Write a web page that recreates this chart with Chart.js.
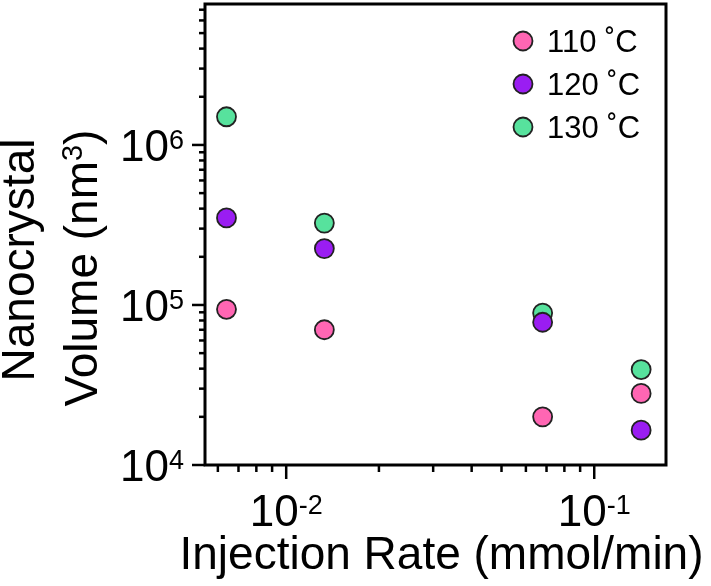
<!DOCTYPE html>
<html>
<head>
<meta charset="utf-8">
<script src="https://cdn.jsdelivr.net/npm/chart.js@4.4.1/dist/chart.umd.min.js"></script>
<style>
  html, body { margin: 0; padding: 0; background: #fff; }
  canvas { display: block; }
</style>
</head>
<body>
<canvas id="VolumeChart" width="711" height="586"></canvas>
<script>
// injection rate (mmol/min) and nanocrystal volume (nm^3) per temperature
var injectionRates = [0.0064, 0.0133, 0.068, 0.142];
var volume110 = [9.4e4, 7.0e4, 2.0e4, 2.8e4];
var volume120 = [3.5e5, 2.25e5, 7.8e4, 1.65e4];
var volume130 = [1.5e6, 3.25e5, 8.9e4, 3.95e4];
var seriesLabels = ["110 ˚C", "120 ˚C", "130 ˚C"];
var seriesColors = ["#FF66B3", "#9A1DF2", "#57E29D"];

var FONT = "'Liberation Sans', Arial, Helvetica, sans-serif";

function toPoints(values) {
    var pts = [];
    for (var i = 0; i < values.length; i++) {
        pts.push({ x: injectionRates[i], y: values[i] });
    }
    return pts;
}

function isNice(v) {
    var p = Math.pow(10, Math.floor(Math.log10(v) + 1e-9));
    var s = v / p;
    return Math.abs(s - Math.round(s)) < 1e-6;
}

function isPow10(v) {
    var e = Math.log10(v);
    return Math.abs(e - Math.round(e)) < 1e-6;
}

// "10" with a raised exponent; align 'center' or 'right'
function drawPower(ctx, exp, x, baseline, align) {
    ctx.font = "44px " + FONT;
    var w1 = ctx.measureText("10").width;
    ctx.font = "27px " + FONT;
    var w2 = ctx.measureText(exp).width;
    var total = w1 + w2;
    var left = align === "right" ? x - total : x - total / 2;
    ctx.textAlign = "left";
    ctx.textBaseline = "alphabetic";
    ctx.font = "44px " + FONT;
    ctx.fillText("10", left, baseline);
    ctx.font = "27px " + FONT;
    ctx.fillText(exp, left + w1, baseline - 12);
}

var axesPlugin = {
    id: "axesPlugin",
    beforeDatasetsDraw: function (chart) {
        var ctx = chart.ctx;
        var area = chart.chartArea;
        var xs = chart.scales.x;
        var ys = chart.scales.y;
        ctx.save();
        ctx.strokeStyle = "#000";
        ctx.fillStyle = "#000";

        // tick marks
        ctx.lineWidth = 2.5;
        xs.ticks.forEach(function (t) {
            if (!isNice(t.value) || t.value < xs.min || t.value > xs.max) return;
            var px = xs.getPixelForValue(t.value);
            var len = isPow10(t.value) ? 14 : 7;
            ctx.beginPath();
            ctx.moveTo(px, area.bottom);
            ctx.lineTo(px, area.bottom + len);
            ctx.stroke();
        });
        ys.ticks.forEach(function (t) {
            if (!isNice(t.value) || t.value < ys.min || t.value > ys.max) return;
            var py = ys.getPixelForValue(t.value);
            var len = isPow10(t.value) ? 13 : 6;
            ctx.beginPath();
            ctx.moveTo(area.left, py);
            ctx.lineTo(area.left - len, py);
            ctx.stroke();
        });

        // frame
        ctx.lineWidth = 3;
        ctx.strokeRect(area.left, area.top, area.right - area.left, area.bottom - area.top);

        // tick labels
        xs.ticks.forEach(function (t) {
            if (!isPow10(t.value) || t.value < xs.min || t.value > xs.max) return;
            var px = xs.getPixelForValue(t.value);
            drawPower(ctx, String(Math.round(Math.log10(t.value))), px, 526, "center");
        });
        ys.ticks.forEach(function (t) {
            if (!isPow10(t.value) || t.value < ys.min || t.value > ys.max) return;
            var py = ys.getPixelForValue(t.value);
            drawPower(ctx, String(Math.round(Math.log10(t.value))), 184, py + 16, "right");
        });

        // axis titles
        ctx.font = "46px " + FONT;
        ctx.textAlign = "center";
        ctx.textBaseline = "alphabetic";
        ctx.fillText("Injection Rate (mmol/min)", (area.left + area.right) / 2 + 6, 569);

        ctx.save();
        ctx.translate(34, 260);
        ctx.rotate(-Math.PI / 2);
        ctx.fillText("Nanocrystal", 0, 0);
        ctx.restore();

        ctx.save();
        ctx.translate(97, 268);
        ctx.rotate(-Math.PI / 2);
        var a = "Volume (nm", b = "3", c = ")";
        ctx.font = "46px " + FONT;
        var wa = ctx.measureText(a).width, wc = ctx.measureText(c).width;
        ctx.font = "29px " + FONT;
        var wb = ctx.measureText(b).width;
        var start = -(wa + wb + wc) / 2;
        ctx.textAlign = "left";
        ctx.font = "46px " + FONT;
        ctx.fillText(a, start, 0);
        ctx.font = "29px " + FONT;
        ctx.fillText(b, start + wa, -15);
        ctx.font = "46px " + FONT;
        ctx.fillText(c, start + wa + wb, 0);
        ctx.restore();

        ctx.restore();
    },
    afterDraw: function (chart) {
        // legend in the upper right of the plot
        var ctx = chart.ctx;
        ctx.save();
        chart.data.datasets.forEach(function (ds, i) {
            var cy = 41 + i * 43;
            ctx.beginPath();
            ctx.arc(523, cy, 9.5, 0, Math.PI * 2);
            ctx.fillStyle = ds.backgroundColor;
            ctx.fill();
            ctx.lineWidth = 1.8;
            ctx.strokeStyle = "#222";
            ctx.stroke();
            ctx.fillStyle = "#000";
            ctx.font = "31px " + FONT;
            ctx.textAlign = "left";
            ctx.textBaseline = "alphabetic";
            ctx.fillText(ds.label, 547, cy + 11);
        });
        ctx.restore();
    }
};

function makeDataset(label, values, color) {
    return {
        label: label,
        data: toPoints(values),
        backgroundColor: color,
        borderColor: "#222",
        borderWidth: 1.8,
        pointRadius: 9.5,
        pointHoverRadius: 9.5
    };
}

var ctx = document.getElementById("VolumeChart").getContext("2d");
new Chart(ctx, {
    type: "scatter",
    data: {
        datasets: [
            makeDataset(seriesLabels[0], volume110, seriesColors[0]),
            makeDataset(seriesLabels[1], volume120, seriesColors[1]),
            makeDataset(seriesLabels[2], volume130, seriesColors[2])
        ]
    },
    options: {
        responsive: false,
        animation: false,
        layout: { autoPadding: false, padding: { top: 4, right: 45, left: 0, bottom: 0 } },
        plugins: {
            legend: { display: false },
            tooltip: { enabled: false }
        },
        scales: {
            x: {
                type: "logarithmic",
                min: 0.00545,
                max: 0.171,
                grid: { display: false },
                border: { display: false },
                ticks: { display: false },
                afterFit: function (scale) { scale.height = 121; }
            },
            y: {
                type: "logarithmic",
                min: 1e4,
                max: 7.6e6,
                grid: { display: false },
                border: { display: false },
                ticks: { display: false },
                afterFit: function (scale) { scale.width = 205; }
            }
        }
    },
    plugins: [axesPlugin]
});
</script>
</body>
</html>
